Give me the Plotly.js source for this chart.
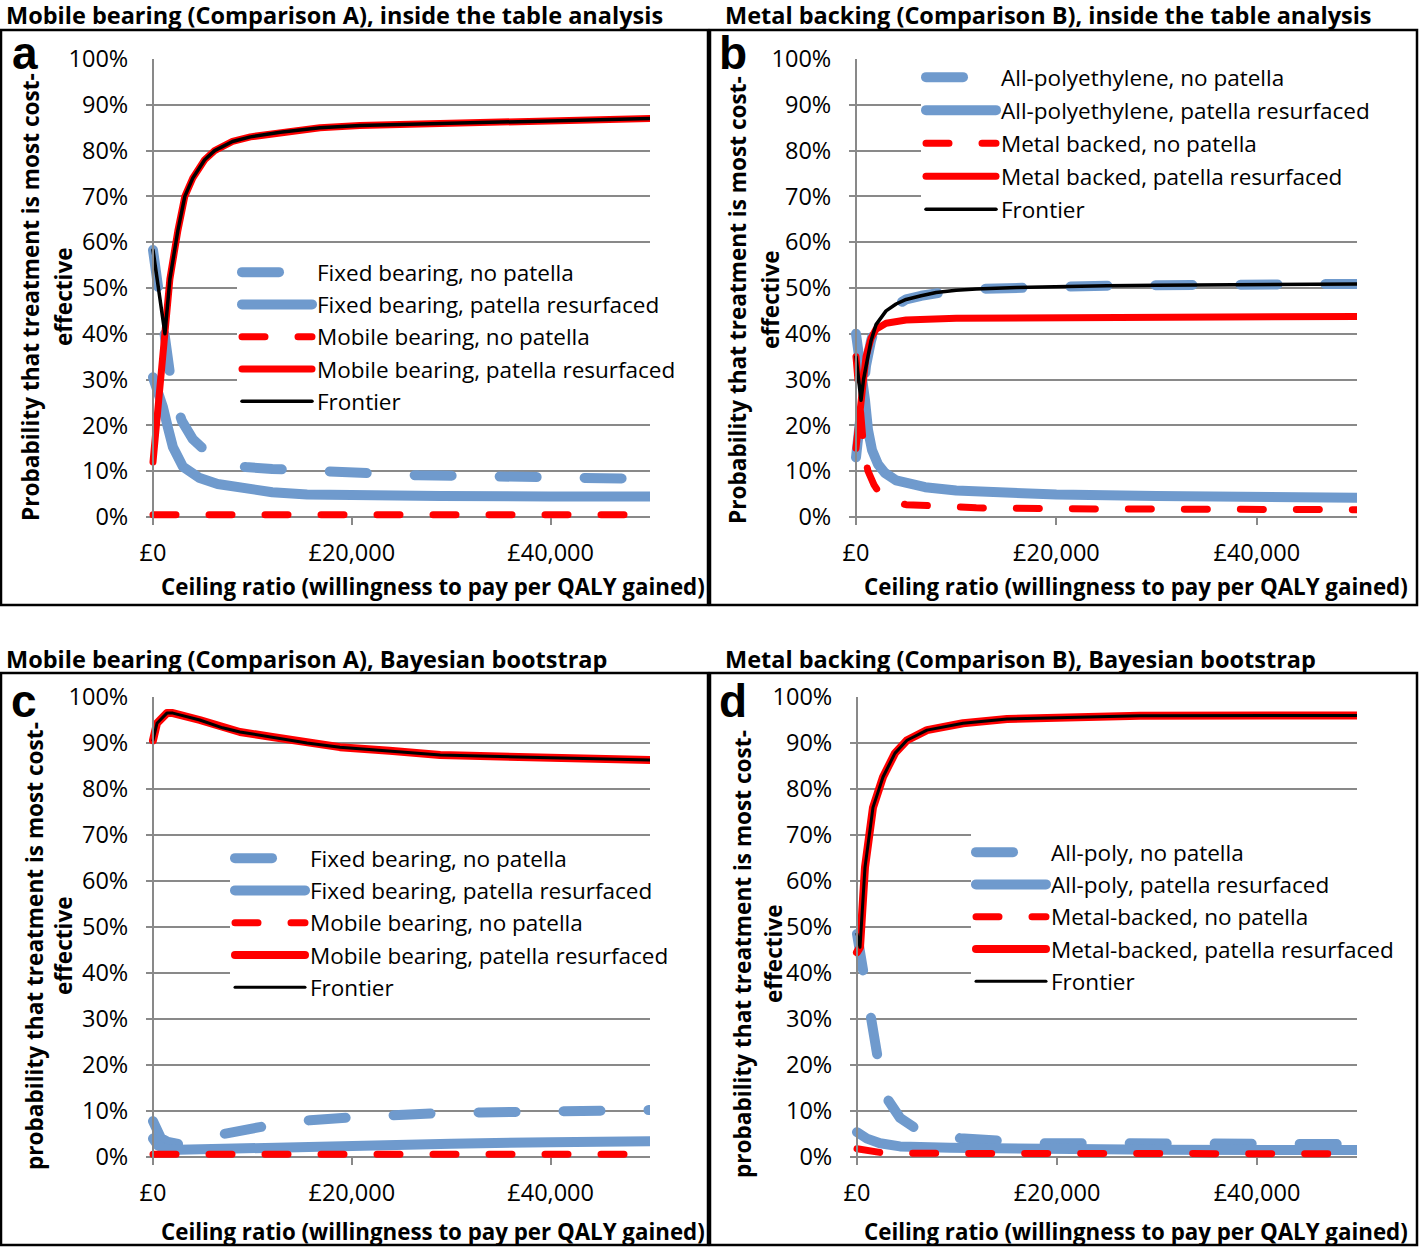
<!DOCTYPE html>
<html>
<head>
<meta charset="utf-8">
<script src="https://cdn.plot.ly/plotly-3.0.1.min.js"></script>
<style>
  html, body { margin: 0; padding: 0; background: #fff; }
  #chart { width: 1419px; height: 1252px; }
  .js-line { stroke-linecap: round !important; stroke-linejoin: round !important; }
</style>
</head>
<body>
<div id="chart"></div>
<script>
// ---------------- DATA ----------------
// Ceiling ratio (GBP per QALY) on x, probability (%) on y

// Panel a: Mobile bearing (Comparison A), inside the table analysis
const aNames = ["Fixed bearing, no patella", "Fixed bearing, patella resurfaced", "Mobile bearing, no patella", "Mobile bearing, patella resurfaced", "Frontier"];
const aX_fixedNo   = [0, 500, 1200, 1700, 2300, 2900, 4000, 5200, 7000, 9300, 12000, 13800, 17700, 20700, 26700, 30700, 34700, 38700, 43200, 47700, 50000];
const aY_fixedNo   = [58.3, 50, 40, 31.4, 25, 21, 17, 14.6, 12.3, 10.9, 10.5, 10.3, 9.8, 9.6, 9.1, 9.0, 8.8, 8.7, 8.5, 8.4, 8.3];
const aX_fixedRes  = [0, 500, 1000, 1500, 2000, 3000, 4700, 6500, 8700, 12000, 15500, 20000, 28900, 40000, 50000];
const aY_fixedRes  = [30.5, 27.5, 24, 19.5, 15.3, 11, 8.5, 7.2, 6.3, 5.4, 4.9, 4.7, 4.6, 4.5, 4.5];
const aX_mobileNo  = [0, 10000, 20000, 30000, 40000, 50000];
const aY_mobileNo  = [0.5, 0.5, 0.5, 0.5, 0.5, 0.5];
const aX_mobileRes = [0, 600, 1200, 1700, 2500, 3200, 4000, 5200, 6200, 8000, 9800, 12800, 16800, 20800, 30000, 40000, 50000];
const aY_mobileRes = [12, 26, 40, 52, 62.5, 70, 74, 78, 80, 82, 83, 84, 85, 85.5, 86, 86.5, 87];
const aX_frontier  = [0, 600, 1200, 1700, 2500, 3200, 4000, 5200, 6200, 8000, 9800, 12800, 16800, 20800, 30000, 40000, 50000];
const aY_frontier  = [58.3, 49, 40, 52, 62.5, 70, 74, 78, 80, 82, 83, 84, 85, 85.5, 86, 86.5, 87];

// Panel b: Metal backing (Comparison B), inside the table analysis
const bNames = ["All-polyethylene, no patella", "All-polyethylene, patella resurfaced", "Metal backed, no patella", "Metal backed, patella resurfaced", "Frontier"];
const bX_polyNo    = [0, 250, 500, 750, 1000, 1500, 2000, 3000, 4000, 5000, 6500, 8000, 10000, 12000, 16000, 20000, 25000, 30000, 40000, 50000];
const bY_polyNo    = [13, 19, 25.5, 30, 33, 38.5, 42, 45, 46.5, 47.5, 48.3, 49, 49.5, 49.8, 50.1, 50.3, 50.5, 50.6, 50.8, 50.9];
const bX_polyRes   = [0, 300, 600, 900, 1200, 1600, 2200, 2900, 4000, 5500, 6900, 10000, 15000, 20000, 30000, 40000, 50000];
const bY_polyRes   = [40, 36, 30, 25.5, 19, 14.6, 11.5, 9.6, 8, 7, 6.5, 5.8, 5.2, 4.9, 4.6, 4.4, 4.2];
const bX_metalNo   = [0, 250, 500, 800, 1200, 1800, 2400, 3500, 5000, 8000, 12000, 20000, 30000, 40000, 50000];
const bY_metalNo   = [35, 27, 20, 14, 10, 7, 5, 3.5, 2.7, 2.3, 2, 1.8, 1.7, 1.65, 1.6];
const bX_metalRes  = [0, 300, 600, 1000, 1500, 2000, 3000, 5000, 10000, 20000, 30000, 40000, 50000];
const bY_metalRes  = [15, 22, 29, 35, 39, 41, 42.3, 43, 43.4, 43.5, 43.5, 43.6, 43.8];
const bX_frontier  = [0, 250, 500, 750, 1000, 1500, 2000, 3000, 4000, 5000, 6500, 8000, 10000, 12000, 16000, 20000, 25000, 30000, 40000, 50000];
const bY_frontier  = [35, 30, 25.5, 30, 33, 38.5, 42, 45, 46.5, 47.5, 48.3, 49, 49.5, 49.8, 50.1, 50.3, 50.5, 50.6, 50.8, 50.9];

// Panel c: Mobile bearing (Comparison A), Bayesian bootstrap
const cNames = ["Fixed bearing, no patella", "Fixed bearing, patella resurfaced", "Mobile bearing, no patella", "Mobile bearing, patella resurfaced", "Frontier"];
const cX_fixedNo   = [0, 400, 800, 1500, 2600, 4000, 5500, 7300, 11000, 15800, 19900, 24300, 28500, 33000, 37100, 41600, 45800, 50000];
const cY_fixedNo   = [7.8, 5.5, 4.1, 3.3, 2.8, 3.3, 4.2, 5.1, 6.6, 8.0, 8.6, 9.3, 9.5, 9.7, 9.7, 10.0, 10.1, 10.2];
const cX_fixedRes  = [0, 500, 1500, 3300, 10000, 20000, 30000, 40000, 50000];
const cY_fixedRes  = [4, 2.5, 1.5, 1.6, 2.1, 2.6, 2.9, 3.2, 3.4];
const cX_mobileNo  = [0, 10000, 20000, 30000, 40000, 50000];
const cY_mobileNo  = [0.6, 0.6, 0.6, 0.6, 0.6, 0.6];
const cX_mobileRes = [0, 400, 1400, 2000, 4700, 7000, 8750, 12000, 15500, 18800, 23800, 28900, 40000, 50000];
const cY_mobileRes = [90.6, 94.3, 96.5, 96.5, 95, 93.3, 92.4, 91.3, 90, 89.1, 88.3, 87.4, 86.8, 86.3];
const cX_frontier  = [0, 400, 1400, 2000, 4700, 7000, 8750, 12000, 15500, 18800, 23800, 28900, 40000, 50000];
const cY_frontier  = [90.6, 94.3, 96.5, 96.5, 95, 93.3, 92.4, 91.3, 90, 89.1, 88.3, 87.4, 86.8, 86.3];

// Panel d: Metal backing (Comparison B), Bayesian bootstrap
const dNames = ["All-poly, no patella", "All-poly, patella resurfaced", "Metal-backed, no patella", "Metal-backed, patella resurfaced", "Frontier"];
const dX_polyNo    = [0, 250, 500, 900, 1300, 1900, 2500, 3100, 4300, 5800, 8000, 10300, 14300, 18000, 25000, 35000, 50000];
const dY_polyNo    = [48.5, 45, 41.3, 36, 31.3, 22.6, 16, 12.4, 8.5, 6.3, 4.8, 4.1, 3.3, 3.0, 3.0, 2.9, 2.8];
const dX_polyRes   = [0, 1000, 2300, 4300, 9300, 14300, 30000, 50000];
const dY_polyRes   = [5.4, 4, 3, 2.3, 2, 1.8, 1.6, 1.5];
const dX_metalNo   = [0, 1000, 2300, 5000, 20000, 35000, 50000];
const dY_metalNo   = [1.8, 1.4, 1.0, 0.8, 0.7, 0.7, 0.7];
const dX_metalRes  = [0, 300, 800, 1600, 2600, 3800, 5000, 7000, 10600, 15000, 28300, 50000];
const dY_metalRes  = [44.5, 45.6, 63, 76, 82.6, 87.8, 90.6, 92.8, 94.3, 95.2, 95.9, 96];
const dX_frontier  = [0, 300, 800, 1600, 2600, 3800, 5000, 7000, 10600, 15000, 28300, 50000];
const dY_frontier  = [48.5, 45.6, 63, 76, 82.6, 87.8, 90.6, 92.8, 94.3, 95.2, 95.9, 96];

const panelTitles = [
  "Mobile bearing (Comparison A), inside the table analysis",
  "Metal backing (Comparison B), inside the table analysis",
  "Mobile bearing (Comparison A), Bayesian bootstrap",
  "Metal backing (Comparison B), Bayesian bootstrap"
];
const panelLetters = ["a", "b", "c", "d"];
const yTitleLine1 = ["Probability that treatment is most cost-", "Probability that treatment is most cost-",
                     "probability that treatment is most cost-", "probability that treatment is most cost-"];
const yTitleLine2 = "effective";
const xTitle = "Ceiling ratio (willingness to pay per QALY gained)";
const xTickVals = [0, 20000, 40000];
const xTickLabels = ["£0", "£20,000", "£40,000"];
const yTickVals = [0, 10, 20, 30, 40, 50, 60, 70, 80, 90, 100];
const yTickLabels = ["0%", "10%", "20%", "30%", "40%", "50%", "60%", "70%", "80%", "90%", "100%"];

// ---------------- LAYOUT / STYLE ----------------
const W = 1419, H = 1252;
const FONT = "'Open Sans', 'Noto Sans', sans-serif";
const BLUE = "#6f9acd", RED = "#ff0000", GRID = "#898989";
const fx = px => px / W;
const fy = py => 1 - py / H;

// pixel geometry of each panel's plot (value 0 / 50000 on x, 0 / 100 on y)
const geo = [
  {x0: 153, x1: 650, y0: 517, y1: 59,  box: [1, 30, 708, 605],   leg: [237, 251], gap: 0,    titleX: 5,   titleY: 15,  xtY: 586,  xtR: 707,  yt1: 30,  yt2: 63,  ytY: 297, letter: [25, 53]},
  {x0: 856, x1: 1357, y0: 517, y1: 59, box: [710, 30, 1417, 605], leg: [921, 56],  gap: 0.75, titleX: 724, titleY: 15,  xtY: 586,  xtR: 1410, yt1: 737, yt2: 770, ytY: 300, letter: [733, 53]},
  {x0: 153, x1: 650, y0: 1157, y1: 697, box: [1, 673, 708, 1245], leg: [230, 837], gap: 0,    titleX: 5,   titleY: 659, xtY: 1231, xtR: 707,  yt1: 34,  yt2: 63,  ytY: 946, letter: [24, 701]},
  {x0: 857, x1: 1357, y0: 1157, y1: 697, box: [710, 673, 1417, 1245], leg: [971, 831], gap: 0, titleX: 724, titleY: 659, xtY: 1231, xtR: 1410, yt1: 742, yt2: 773, ytY: 954, letter: [733, 701]}
];
const XMIN = -700, XMAX = 50000, YMIN = -1.5, YMAX = 100;

const seriesSets = [
  {names: aNames, xs: [aX_fixedNo, aX_fixedRes, aX_mobileNo, aX_mobileRes, aX_frontier], ys: [aY_fixedNo, aY_fixedRes, aY_mobileNo, aY_mobileRes, aY_frontier]},
  {names: bNames, xs: [bX_polyNo, bX_polyRes, bX_metalNo, bX_metalRes, bX_frontier],     ys: [bY_polyNo, bY_polyRes, bY_metalNo, bY_metalRes, bY_frontier]},
  {names: cNames, xs: [cX_fixedNo, cX_fixedRes, cX_mobileNo, cX_mobileRes, cX_frontier], ys: [cY_fixedNo, cY_fixedRes, cY_mobileNo, cY_mobileRes, cY_frontier]},
  {names: dNames, xs: [dX_polyNo, dX_polyRes, dX_metalNo, dX_metalRes, dX_frontier],     ys: [dY_polyNo, dY_polyRes, dY_metalNo, dY_metalRes, dY_frontier]}
];

function lineStyle(k, p) {
  const big = p >= 2;
  return [
    {color: BLUE, width: 10, dash: "37px,48px"},
    {color: BLUE, width: 10},
    {color: RED, width: 7, dash: "23px,33px"},
    {color: RED, width: big ? 8 : 7},
    {color: "#000000", width: big ? 3 : 3.5}
  ][k];
}

const traces = [];
const layout = {
  width: W, height: H,
  margin: {l: 0, r: 0, t: 0, b: 0},
  paper_bgcolor: "#ffffff", plot_bgcolor: "rgba(0,0,0,0)",
  font: {family: FONT, size: 22, color: "#000"},
  separators: ".,",
  hovermode: false,
  annotations: [], shapes: []
};

geo.forEach((g, p) => {
  const ax = p === 0 ? "" : String(p + 1);
  const sx = (g.x1 - g.x0) / 50000;
  const sy = (g.y0 - g.y1) / 100;
  const domX = [fx(g.x0 + XMIN * sx), fx(g.x1)];
  const domY = [fy(g.y0 - YMIN * sy), fy(g.y1)];
  const legName = p === 0 ? "legend" : "legend" + (p + 1);

  layout["xaxis" + ax] = {
    domain: domX, range: [XMIN, XMAX], anchor: "free", position: fy(g.y0),
    showgrid: false, zeroline: false, showline: false,
    tickmode: "array", tickvals: xTickVals, ticktext: xTickLabels,
    ticks: "outside", ticklen: 7, tickwidth: 2, tickcolor: GRID,
    ticklabelstandoff: 8,
    tickfont: {family: FONT, size: 23.5, color: "#000"}, fixedrange: true
  };
  layout["yaxis" + ax] = {
    domain: domY, range: [YMIN, YMAX], anchor: "free", position: fx(g.x0),
    showgrid: true, gridcolor: GRID, gridwidth: 2, zeroline: false,
    showline: true, linecolor: GRID, linewidth: 2,
    tickmode: "array", tickvals: yTickVals, ticktext: yTickLabels,
    ticks: "", ticklabelstandoff: 19,
    tickfont: {family: FONT, size: 23.5, color: "#000"}, fixedrange: true
  };
  layout[legName] = {
    x: fx(g.leg[0]), y: fy(g.leg[1]), xanchor: "left", yanchor: "top",
    bgcolor: "#ffffff", borderwidth: 0, itemwidth: 70,
    font: {family: FONT, size: 22.5, color: "#000"},
    traceorder: g.gap ? "grouped" : "normal", tracegroupgap: g.gap,
    itemclick: false, itemdoubleclick: false
  };

  const s = seriesSets[p];
  for (let k = 0; k < 5; k++) {
    const t = {
      type: "scatter", mode: "lines",
      x: s.xs[k], y: s.ys[k], name: s.names[k],
      xaxis: "x" + ax, yaxis: "y" + ax, legend: legName,
      line: lineStyle(k, p), showlegend: true, hoverinfo: "skip"
    };
    if (g.gap) t.legendgroup = "p" + p + "g" + k;
    traces.push(t);
  }

  // panel frame
  layout.shapes.push({type: "rect", xref: "paper", yref: "paper",
    x0: fx(g.box[0]), x1: fx(g.box[2]), y0: fy(g.box[3]), y1: fy(g.box[1]),
    line: {color: "#000", width: 2.5}, fillcolor: "rgba(0,0,0,0)", layer: "below"});

  // panel title
  layout.annotations.push({xref: "paper", yref: "paper", x: fx(g.titleX), y: fy(g.titleY),
    xanchor: "left", yanchor: "middle", showarrow: false, borderpad: 0, text: "<b>" + panelTitles[p] + "</b>",
    font: {family: FONT, size: 23.5, color: "#000"}});
  // panel letter
  layout.annotations.push({xref: "paper", yref: "paper", x: fx(g.letter[0]), y: fy(g.letter[1]),
    xanchor: "center", yanchor: "middle", showarrow: false, borderpad: 0, text: "<b>" + panelLetters[p] + "</b>",
    font: {family: "'Liberation Sans', Arial, sans-serif", size: 46, color: "#000"}});
  // x axis title
  layout.annotations.push({xref: "paper", yref: "paper", x: fx(g.xtR), y: fy(g.xtY),
    xanchor: "right", yanchor: "middle", showarrow: false, text: "<b>" + xTitle + "</b>",
    font: {family: FONT, size: 22.3, color: "#000"}});
  // y axis title (two lines)
  layout.annotations.push({xref: "paper", yref: "paper", x: fx(g.yt1), y: fy(g.ytY),
    xanchor: "center", yanchor: "middle", showarrow: false, textangle: -90, text: "<b>" + yTitleLine1[p] + "</b>",
    font: {family: FONT, size: 22.6, color: "#000"}});
  layout.annotations.push({xref: "paper", yref: "paper", x: fx(g.yt2), y: fy(g.ytY),
    xanchor: "center", yanchor: "middle", showarrow: false, textangle: -90, text: "<b>" + yTitleLine2 + "</b>",
    font: {family: FONT, size: 22.6, color: "#000"}});
});

Plotly.newPlot("chart", traces, layout, {displayModeBar: false, staticPlot: true});
</script>
</body>
</html>
